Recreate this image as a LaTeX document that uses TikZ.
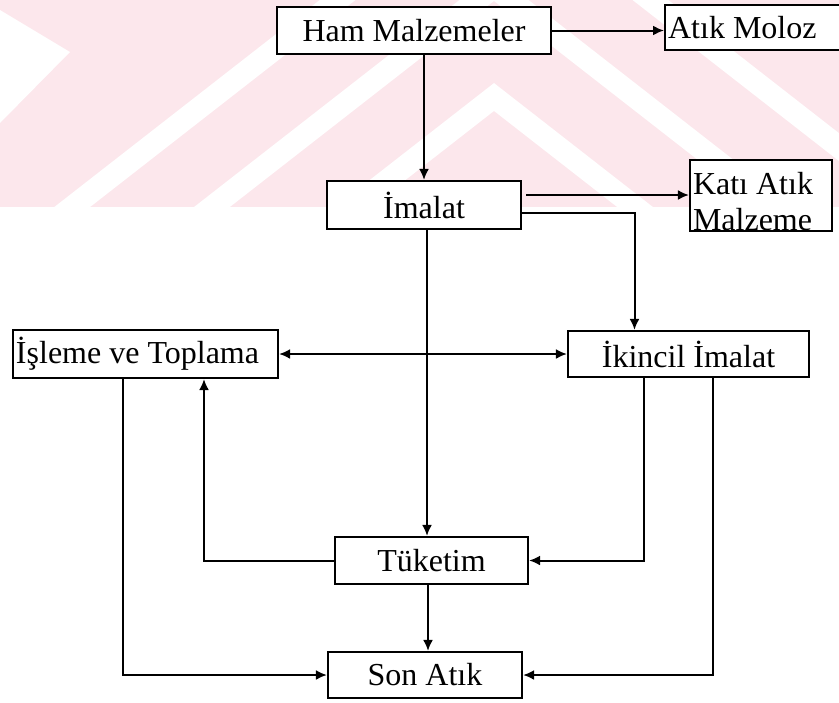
\documentclass[tikz,border=0pt]{standalone}
\usepackage{fontspec}
\setmainfont{Liberation Serif}
\usetikzlibrary{arrows.meta}
\definecolor{wmpink}{RGB}{252,231,236}

\begin{document}
\begin{tikzpicture}[x=0.5pt, y=-0.5pt, font=\fontsize{16}{18}\selectfont,
  box/.style={draw, line width=1.1pt, fill=white, inner sep=1.5pt},
  flow/.style={line width=1pt, ->},
  >={Latex[length=5.5pt,width=5pt]}]
\useasboundingbox (0,0) rectangle (839,702);
\begin{scope}
  \clip (0,0) rectangle (839,207);
  \fill[wmpink] (0,0) rectangle (839,207);
  \fill[white] (0,10) -- (70,52) -- (0,123) -- cycle;
  \foreach \a in {-122,-13,97}
    \draw[white, line width=11pt] ({494-(260-\a)/0.78},260) -- (494,\a) -- ({494+(260-\a)/0.78},260);
\end{scope}

\node[box, minimum width=137pt, minimum height=23.5pt] (ham) at (414,30.5) {Ham Malzemeler};
\node[box, anchor=west, minimum width=95pt, minimum height=22.5pt] (moloz) at (664,27.5) {\makebox[92pt][l]{Atık Moloz}};
\node[box, minimum width=97pt, minimum height=24pt] (imalat) at (424,205) {İmalat};
\node[box, minimum width=71pt, minimum height=35.5pt, inner ysep=0pt, text width=68pt, align=flush left] (kati) at (761,195.5) {\rule{0pt}{17.5pt}Katı Atık\\Malzeme};
\node[box, minimum width=132.5pt, minimum height=24pt] (isleme) at (145.5,354) {\makebox[129.5pt][l]{İşleme ve Toplama}};
\node[box, minimum width=120.5pt, minimum height=23pt] (ikincil) at (688.5,354) {İkincil İmalat};
\node[box, minimum width=96.5pt, minimum height=23.5pt] (tuketim) at (431.5,560.5) {Tüketim};
\node[box, minimum width=97pt, minimum height=23pt] (son) at (425,675) {Son Atık};

\draw[flow] (ham.east) -- (ham.east -| moloz.west);
\draw[flow] (ham.south -| imalat.north) -- (imalat.north);
\draw[flow] ([shift={(2pt,5pt)}]imalat.east) -- ([yshift=5pt]imalat.east -| kati.west);
\draw[flow] ([yshift=-4pt]imalat.east) -| ([xshift=-27pt]ikincil.north);
\draw[flow] ([xshift=1.5pt]imalat.south) -- ([xshift=1.5pt]imalat.south |- tuketim.north);
\draw[flow, <->] (isleme.east) -- (ikincil.west);
\draw[flow] ([xshift=-11.25pt]isleme.south) |- (son.west);
\draw[flow] (tuketim.west) -| ([xshift=29.25pt]isleme.south);
\draw[flow] ([xshift=-22.25pt]ikincil.south) |- (tuketim.east);
\draw[flow] ([xshift=12.25pt]ikincil.south) |- (son.east);
\draw[flow] ([xshift=-1.75pt]tuketim.south) -- ([xshift=-1.75pt]tuketim.south |- son.north);
\end{tikzpicture}
\end{document}
